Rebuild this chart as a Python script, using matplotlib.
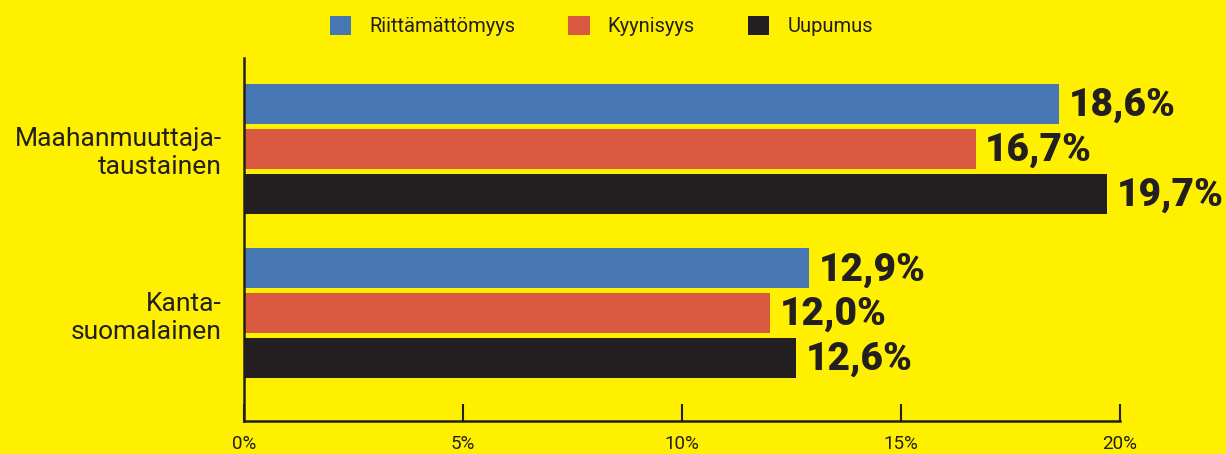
import matplotlib
matplotlib.use("Agg")
import matplotlib.pyplot as plt
import numpy as np

# data
groups = ["Maahanmuuttaja-\ntaustainen", "Kanta-\nsuomalainen"]
series_names = ["Riittämättömyys", "Kyynisyys", "Uupumus"]
riittamattomyys = [18.6, 12.9]
kyynisyys = [16.7, 12.0]
uupumus = [19.7, 12.6]
x_ticks = [0, 5, 10, 15, 20]
x_ticklabels = ["0%", "5%", "10%", "15%", "20%"]

colors = ["#4878B4", "#D95941", "#231F20"]
bg = "#FFF000"
dark = "#231F20"

plt.rcParams['font.family'] = ['Roboto', 'DejaVu Sans']

fig = plt.figure(figsize=(12.26, 4.54), dpi=100, facecolor=bg)
ax = fig.add_axes([0.199, 0.0727, 0.7146, 0.7995], facecolor=bg)

y = np.arange(len(groups))
offsets = [-0.273, 0.0, 0.273]
h = 0.242
handles = []
for vals, off, col, name in zip([riittamattomyys, kyynisyys, uupumus], offsets, colors, series_names):
    b = ax.barh(y + off, vals, height=h, color=col, label=name)
    handles.append(b)
    for yi, v in zip(y + off, vals):
        ax.annotate(f"{v:.1f}%".replace(".", ","), (v, yi), xytext=(7, -1),
                    textcoords="offset points", va="center", ha="left",
                    fontsize=28, fontweight="black", color=dark)

ax.set_ylim(1.655, -0.552)
ax.set_xlim(0, 20)
ax.set_yticks(y)
ax.set_yticklabels(groups, fontsize=19, color=dark, ha="right", linespacing=1.2)
ax.tick_params(axis="y", length=0, pad=16)
ax.set_xticks(x_ticks)
ax.set_xticklabels(x_ticklabels, fontsize=13.5, color=dark)
ax.tick_params(axis="x", direction="in", length=12, width=1.5, color=dark, pad=10)
for s in ["top", "right"]:
    ax.spines[s].set_visible(False)
for s in ["left", "bottom"]:
    ax.spines[s].set_color(dark)
    ax.spines[s].set_linewidth(1.8)

fig.legend(handles=handles, loc="upper center", bbox_to_anchor=(0.4905, 1.005), ncol=3,
           frameon=False, fontsize=14.5, handlelength=1.05, handleheight=1.05,
           columnspacing=2.65, handletextpad=0.9, labelcolor=dark)

fig.savefig("out.png", dpi=100, facecolor=bg)
